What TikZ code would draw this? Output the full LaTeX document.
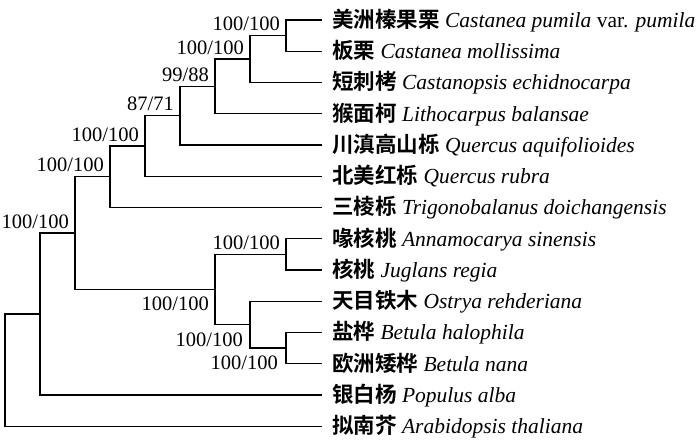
\documentclass[tikz,border=0pt]{standalone}
\usepackage{fontspec}
\setmainfont{Liberation Serif}
\newfontfamily\cjk{Noto Sans CJK SC}[BoldFont=* Bold]
\begin{document}
\begin{tikzpicture}[x=1pt,y=-1pt,
  br/.style={line width=1.3pt,line join=miter,line cap=rect},
  sp/.style={anchor=base west,inner sep=0pt,font=\fontsize{21.5}{24}\selectfont},
  bsup/.style={anchor=base east,inner sep=0pt,font=\fontsize{20.5}{23}\selectfont}]
\useasboundingbox (0,0) rectangle (700,446);
% tips
\foreach \i/\y in {1/20,2/51.25,3/82.5,4/113.75,5/145,6/176.25,7/207.5,8/238.75,9/270,10/301.25,11/332.5,12/363.75,13/395,14/426.25}
  \coordinate (t\i) at (321,\y);
% internal nodes
\coordinate (a) at (286,35.6);
\coordinate (b) at (250,59.1);
\coordinate (c) at (215,86.4);
\coordinate (d) at (180,115.7);
\coordinate (e) at (145,146);
\coordinate (f) at (110,176.7);
\coordinate (g) at (286,254.4);
\coordinate (h) at (286,348.1);
\coordinate (i) at (250,324.7);
\coordinate (j) at (215,289.5);
\coordinate (k) at (75,233.1);
\coordinate (l) at (40,314);
\coordinate (r) at (5,370.1);
% branches
\draw[br] (t1) -| (a) |- (t2);
\draw[br] (a) -| (b) |- (t3);
\draw[br] (b) -| (c) |- (t4);
\draw[br] (c) -| (d) |- (t5);
\draw[br] (d) -| (e) |- (t6);
\draw[br] (e) -| (f) |- (t7);
\draw[br] (t8) -| (g) |- (t9);
\draw[br] (t11) -| (h) |- (t12);
\draw[br] (t10) -| (i) |- (h);
\draw[br] (g) -| (j) |- (i);
\draw[br] (f) -| (k) |- (j);
\draw[br] (k) -| (l) |- (t13);
\draw[br] (l) -| (r) |- (t14);
% species
\node[sp] (s1) at (332,27.3) {{\cjk\bfseries 美洲榛果栗} \textit{Castanea pumila} var. \textit{pumila}};
\node[sp] (s2) at (332,58.55) {{\cjk\bfseries 板栗} \textit{Castanea mollissima}};
\node[sp] (s3) at (332,89.8) {{\cjk\bfseries 短刺栲} \textit{Castanopsis echidnocarpa}};
\node[sp] (s4) at (332,121.05) {{\cjk\bfseries 猴面柯} \textit{Lithocarpus balansae}};
\node[sp] (s5) at (332,152.3) {{\cjk\bfseries 川滇高山栎} \textit{Quercus aquifolioides}};
\node[sp] (s6) at (332,183.55) {{\cjk\bfseries 北美红栎} \textit{Quercus rubra}};
\node[sp] (s7) at (332,214.8) {{\cjk\bfseries 三棱栎} \textit{Trigonobalanus doichangensis}};
\node[sp] (s8) at (332,246.05) {{\cjk\bfseries 喙核桃} \textit{Annamocarya sinensis}};
\node[sp] (s9) at (332,277.3) {{\cjk\bfseries 核桃} \textit{Juglans regia}};
\node[sp] (s10) at (332,308.55) {{\cjk\bfseries 天目铁木} \textit{Ostrya rehderiana}};
\node[sp] (s11) at (332,339.8) {{\cjk\bfseries 盐桦} \textit{Betula halophila}};
\node[sp] (s12) at (332,371.05) {{\cjk\bfseries 欧洲矮桦} \textit{Betula nana}};
\node[sp] (s13) at (332,402.3) {{\cjk\bfseries 银白杨} \textit{Populus alba}};
\node[sp] (s14) at (332,433.55) {{\cjk\bfseries 拟南芥} \textit{Arabidopsis thaliana}};
% support values
\node[bsup] (la) at (280,31) {100/100};
\node[bsup] (lb) at (244,54.3) {100/100};
\node[bsup] (lc) at (209,81.5) {99/88};
\node[bsup] (ld) at (174,110.8) {87/71};
\node[bsup] (le) at (139,141.2) {100/100};
\node[bsup] (lf) at (104,171.8) {100/100};
\node[bsup] (lk) at (69,228) {100/100};
\node[bsup] (lg) at (280,249.5) {100/100};
\node[bsup] (lj) at (209,310.5) {100/100};
\node[bsup] (li) at (243,346) {100/100};
\node[bsup] (lh) at (278,369) {100/100};
\end{tikzpicture}
\end{document}
